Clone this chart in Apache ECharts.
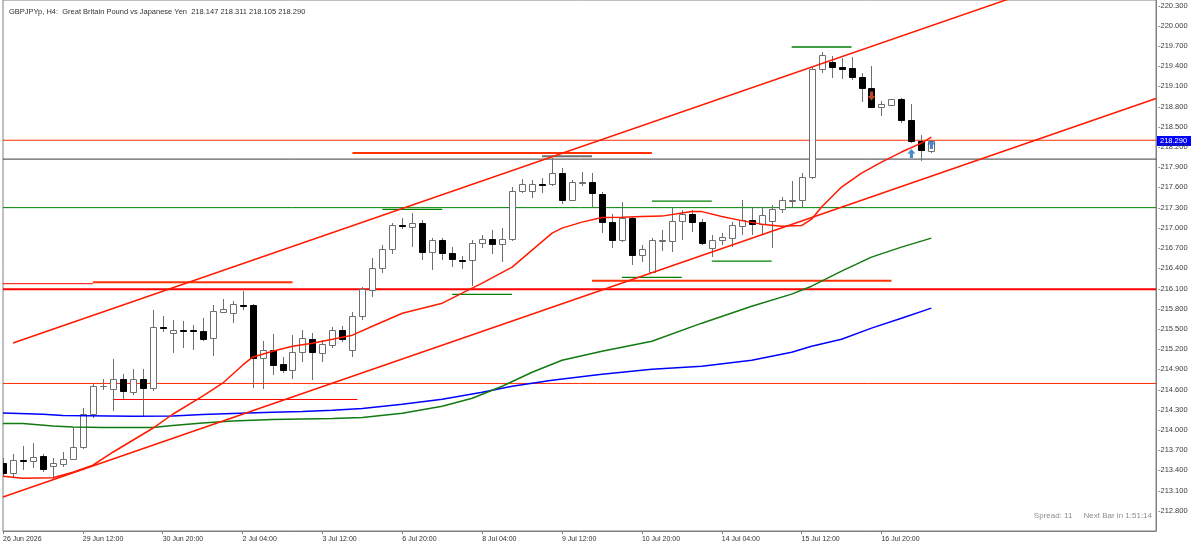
<!DOCTYPE html>
<html>
<head>
<meta charset="utf-8">
<title>GBPJPYp H4</title>
<script src="https://cdn.jsdelivr.net/npm/echarts@6.0.0/dist/echarts.min.js"></script>
<style>
html, body { margin:0; padding:0; background:#fff; }
#main { width:1200px; height:546px; }
</style>
</head>
<body>
<div id="main"></div>
<script>
// H4 bars, [open, close, low, high]
var bars = [
	[213.510,213.362,213.312,213.580],[213.362,213.561,213.302,213.650],[213.558,213.543,213.402,213.758],[213.540,213.599,213.436,213.813],
	[213.609,213.421,213.376,213.650],[213.461,213.506,213.253,213.590],[213.501,213.575,213.451,213.673],[213.569,213.754,213.550,214.040],
	[213.748,214.244,213.724,214.322],[214.244,214.645,214.184,214.689],[214.649,214.656,214.600,214.763],[214.615,214.753,214.282,215.050],
	[214.753,214.575,214.452,214.827],[214.570,214.753,214.515,214.912],[214.753,214.630,214.193,214.912],[214.624,215.521,214.575,215.778],
	[215.525,215.511,215.456,215.689],[215.432,215.491,215.144,215.629],[215.488,215.473,215.209,215.619],[215.488,215.473,215.184,215.555],
	[215.470,215.347,215.317,215.655],[215.358,215.759,215.095,215.852],[215.753,215.788,215.729,215.941],[215.729,215.867,215.589,215.912],
	[215.860,215.845,215.778,216.065],[215.852,215.061,214.630,215.867],[215.061,215.194,214.605,215.317],[215.194,214.961,214.812,215.421],
	[214.976,214.887,214.838,215.084],[214.887,215.159,214.749,215.407],[215.159,215.358,215.010,215.481],[215.343,215.150,214.738,215.432],
	[215.144,215.273,215.010,215.332],[215.258,215.491,215.209,215.530],[215.491,215.343,215.303,215.540],[215.194,215.689,215.084,215.753],
	[215.689,216.085,215.629,216.120],[216.075,216.397,215.967,216.546],[216.397,216.679,216.323,216.743],[216.679,217.040,216.610,217.074],
	[217.048,217.033,216.976,217.140],[217.015,217.066,216.718,217.214],[217.066,216.644,216.520,217.115],[216.644,216.818,216.372,216.843],
	[216.818,216.629,216.520,216.843],[216.629,216.531,216.412,216.718],[216.528,216.513,216.382,216.580],[216.520,216.777,216.134,216.818],
	[216.777,216.828,216.694,216.892],[216.828,216.758,216.610,216.966],[216.758,216.828,216.495,216.991],[216.828,217.550,216.803,217.605],
	[217.550,217.645,217.516,217.724],[217.550,217.645,217.437,217.709],[217.657,217.642,217.511,217.734],[217.645,217.808,217.620,218.031],
	[217.808,217.412,217.352,217.882],[217.412,217.674,217.397,217.709],[217.660,217.683,217.624,217.823],[217.683,217.511,217.312,217.808],
	[217.501,217.080,216.926,217.535],[217.080,216.818,216.703,217.204],[216.818,217.149,216.792,217.386],[217.140,216.595,216.446,217.164],
	[216.595,216.679,216.495,216.743],[216.347,216.818,216.342,216.843],[216.810,216.825,216.654,216.966],[216.807,217.104,216.644,217.312],
	[217.104,217.204,216.818,217.263],[217.204,217.089,216.941,217.263],[217.089,216.769,216.743,217.125],[216.694,216.818,216.561,216.892],
	[216.818,216.858,216.743,216.917],[216.843,217.036,216.709,217.089],[217.030,217.115,216.892,217.412],[217.115,217.055,216.892,217.312],
	[217.055,217.184,216.892,217.303],[217.100,217.278,216.694,217.337],[217.278,217.412,217.219,217.456],[217.404,217.419,217.312,217.694],
	[217.412,217.749,217.303,217.808],[217.749,219.353,217.724,219.382],[219.353,219.565,219.302,219.614],[219.457,219.382,219.219,219.550],
	[219.382,219.357,219.204,219.516],[219.368,219.234,219.194,219.540],[219.234,219.071,218.863,219.293],[219.071,218.788,218.785,219.406],
	[218.788,218.837,218.664,218.886],[218.823,218.907,218.808,218.919],[218.907,218.600,218.560,218.922],[218.600,218.292,218.254,218.837],
	[218.292,218.150,217.995,218.377],[218.147,218.290,218.105,218.311]
];

// moving averages, [bar, value]
var redMA = [[0,213.312],[2,213.283],[5,213.290],[7,213.372],[9,213.476],[11,213.669],[13,213.847],[15,214.025],[17,214.233],[20,214.501],
	[22,214.694],[24,214.961],[25,215.080],[27,215.169],[29,215.243],[31,215.288],[33,215.347],[35,215.407],[37,215.540],[40,215.733],
	[44,215.882],[46,216.030],[48,216.179],[51,216.417],[53,216.669],[55,216.921],[56,216.996],[58,217.085],[60,217.152],[62,217.159],
	[64,217.167],[66,217.174],[68,217.219],[69,217.241],[70,217.241],[72,217.167],[74,217.107],[76,217.055],[78,217.025],[80,217.033],
	[81,217.129],[82,217.308],[84,217.605],[86,217.813],[88,217.976],[90,218.125],[92,218.258],[93,218.347]];
var greenMA = [[0,214.095],[2,214.095],[5,214.060],[7,214.045],[10,214.036],[15,214.036],[17,214.065],[20,214.104],[23,214.134],[27,214.155],
	[30,214.163],[33,214.169],[36,214.184],[40,214.248],[44,214.352],[47,214.471],[50,214.649],[53,214.857],[56,215.035],[60,215.169],
	[65,215.317],[70,215.585],[75,215.837],[79,216.016],[81,216.134],[84,216.357],[87,216.565],[90,216.714],[93,216.847]];
var blueMA = [[0,214.253],[4,214.233],[6,214.214],[13,214.204],[17,214.208],[20,214.229],[23,214.244],[27,214.263],[30,214.273],[33,214.293],
	[36,214.318],[40,214.382],[44,214.456],[48,214.560],[51,214.649],[55,214.738],[60,214.827],[65,214.902],[70,214.946],[75,215.035],
	[79,215.154],[81,215.243],[84,215.347],[87,215.511],[90,215.659],[93,215.808]];

// channel anchors
var upperChannel = [[1,215.29],[101,220.41]];
var lowerChannel = [[0,213.005],[115.5,218.92]];

// full-width horizontal levels
var fullRedThin = [218.30, 214.69];
var fullRedThick = [216.09];
var fullGreen = [217.30];
var fullDark = [218.02];
// segments [fromBar, toBar, price]
var greenSegs = [[79,85,219.684],[38,44,217.273],[45,51,216.011],[65,71,217.397],[71,77,216.506],[62,68,216.264]];
var redThickSegs = [[35,65,218.110],[9,29,216.194],[59,89,216.216]];
var redThinSegs = [[0,9,216.171],[11,35.5,214.452]];
var graySegs = [[54,59,218.062]];

// trade marks
var sellMarks = [[87,218.956]];
var buyMarks = [[91,218.105],[93,218.238]];

// axis ticks
var xTickBars = [0,8,16,24,32,40,48,56,64,72,80,88];
var xLabels = ['26 Jun 2026','29 Jun 12:00','30 Jun 20:00','2 Jul 04:00','3 Jul 12:00','6 Jul 20:00','8 Jul 04:00','9 Jul 12:00','10 Jul 20:00','14 Jul 04:00','15 Jul 12:00','16 Jul 20:00'];
var yTicks = [212.8,213.1,213.4,213.7,214.0,214.3,214.6,214.9,215.2,215.5,215.8,216.1,216.4,216.7,217.0,217.3,217.6,217.9,218.2,218.5,218.8,219.1,219.4,219.7,220.0,220.3];

var X_MIN = 0, X_MAX = 115.5, Y_MIN = 212.5, Y_MAX = 220.382;

var last = bars[bars.length - 1];
var titleText = 'GBPJPYp, H4:  Great Britain Pound vs Japanese Yen  ' + last[0].toFixed(3) + ' ' + last[3].toFixed(3) + ' ' + last[2].toFixed(3) + ' ' + last[1].toFixed(3);

var FONT = 'Liberation Sans';
var AXIS = '#808080';

var candleData = bars.map(function(b, i){ return [i, b[0], b[1], b[2], b[3]]; });

function renderCandle(params, api){
	var k = api.value(0);
	var o = api.coord([k, api.value(1)]);
	var c = api.coord([k, api.value(2)]);
	var l = api.coord([k, api.value(3)]);
	var h = api.coord([k, api.value(4)]);
	var x = Math.round(o[0]) + 0.5;
	var up = api.value(2) >= api.value(1);
	var top = Math.round(Math.min(o[1], c[1])) + 0.5;
	var bot = Math.round(Math.max(o[1], c[1])) + 0.5;
	var wick = '#6e6e6e';
	return {
		type: 'group',
		children: [
			{type:'line', shape:{x1:x, y1:Math.round(h[1]), x2:x, y2:top}, style:{stroke:wick, lineWidth:1}},
			{type:'line', shape:{x1:x, y1:bot, x2:x, y2:Math.round(l[1])}, style:{stroke:wick, lineWidth:1}},
			{type:'rect', shape:{x:x-3, y:top, width:6, height:Math.max(bot-top, 0)},
				style:{fill: up ? '#ffffff' : '#000000', stroke: up ? wick : '#000000', lineWidth:1}}
		]
	};
}

// one line series per level / segment
var levelSeries = [];
function addSegs(list, color, width){
	list.forEach(function(s){
		levelSeries.push({type:'line', data:[[s[0], s[2]], [s[1], s[2]]], symbol:'none', z:1, silent:true,
			lineStyle:{color:color, width:width}});
	});
}
function addFull(list, color, width){
	addSegs(list.map(function(p){ return [X_MIN, X_MAX, p]; }), color, width);
}
addFull(fullDark, '#3c3c3c', 1);
addFull(fullGreen, '#008000', 1);
addFull(fullRedThin, '#ff2a00', 1);
addFull(fullRedThick, '#ff0000', 2);
addSegs(greenSegs, '#008000', 1.3);
addSegs(redThickSegs, '#ff3300', 2);
addSegs(redThinSegs, '#ff0000', 1);
addSegs(graySegs, '#6e6e6e', 2);

var spreadText = {
	type: 'text', right: 48, top: 512,
	style: {text: 'Spread: 11     Next Bar in 1:51:14', fill: '#8c8c8c', font: '8px ' + FONT}
};

// keep only the labels listed in yTicks
function yLabel(v){
	for (var i = 0; i < yTicks.length; i++) {
		if (Math.abs(yTicks[i] - v) < 1e-6) return '-' + v.toFixed(3);
	}
	return '';
}

var chart = echarts.init(document.getElementById('main'));

var option = {
	animation: false,
	backgroundColor: '#ffffff',
	title: {
		text: titleText, left: 4, top: 3,
		textStyle: {fontSize: 7.5, fontWeight: 'normal', color: '#333333', fontFamily: FONT}
	},
	grid: {left: 1, right: 44, top: 0, bottom: 15, show: true, borderColor: AXIS, borderWidth: 1, backgroundColor: 'transparent'},
	xAxis: {
		type: 'value', min: X_MIN, max: X_MAX,
		axisLine: {onZero: false, lineStyle: {color: AXIS}},
		axisTick: {show: true, length: 3, lineStyle: {color: AXIS}, customValues: xTickBars},
		axisLabel: {
			customValues: xTickBars, align: 'left', margin: 5, fontSize: 7, color: '#333333', fontFamily: FONT,
			formatter: function(v){ var i = xTickBars.indexOf(v); return i < 0 ? '' : xLabels[i]; }
		},
		splitLine: {show: false}
	},
	yAxis: {
		type: 'value', position: 'right', min: Y_MIN, max: Y_MAX, interval: 0.3,
		axisLine: {show: true, onZero: false, lineStyle: {color: AXIS}},
		axisTick: {show: false},
		axisLabel: {margin: 2, fontSize: 7.5, color: '#3a3a3a', fontFamily: FONT, showMinLabel: false, showMaxLabel: false,
			formatter: yLabel},
		splitLine: {show: false}, splitArea: {show: false}
	},
	graphic: [spreadText],
	series: levelSeries.concat([
		{
			name: 'candles', type: 'custom', renderItem: renderCandle, data: candleData, clip: true, z: 3,
			encode: {x: 0, y: [1,2,3,4]}
		},
		{name: 'blue MA', type: 'line', data: blueMA, symbol: 'none', z: 4, lineStyle: {color: '#0000ff', width: 1.5}},
		{name: 'green MA', type: 'line', data: greenMA, symbol: 'none', z: 4, lineStyle: {color: '#127a12', width: 1.5}},
		{name: 'red MA', type: 'line', data: redMA, symbol: 'none', z: 4, lineStyle: {color: '#ff1a00', width: 1.5}},
		{name: 'upper channel', type: 'line', data: upperChannel, symbol: 'none', z: 4, lineStyle: {color: '#ff1a00', width: 1.5}},
		{name: 'lower channel', type: 'line', data: lowerChannel, symbol: 'none', z: 4, lineStyle: {color: '#ff1a00', width: 1.5}},
		{
			name: 'sell', type: 'scatter', data: sellMarks, z: 5, symbolSize: [8, 9],
			symbol: 'path://M3,0 L7,0 L7,5 L10,5 L5,10 L0,5 L3,5 Z', itemStyle: {color: '#e8542b'}
		},
		{
			name: 'buy', type: 'scatter', data: buyMarks, z: 5, symbolSize: [8, 9],
			symbol: 'path://M5,0 L10,5 L7,5 L7,10 L3,10 L3,5 L0,5 Z', itemStyle: {color: '#1e6bc0'}
		}
	])
};
chart.setOption(option, true);

// current price tag on the price scale
var tagY = chart.convertToPixel({yAxisIndex: 0}, last[1]);
chart.setOption({
	graphic: [spreadText, {
		type: 'group', left: 1157, top: Math.round(tagY) - 5, z: 100,
		children: [
			{type: 'rect', shape: {x: 0, y: 0, width: 34, height: 10}, style: {fill: '#0000ff'}},
			{type: 'text', x: 3, y: 1, style: {text: last[1].toFixed(3), fill: '#ffffff', font: '7.5px ' + FONT}}
		]
	}]
});
</script>
</body>
</html>
